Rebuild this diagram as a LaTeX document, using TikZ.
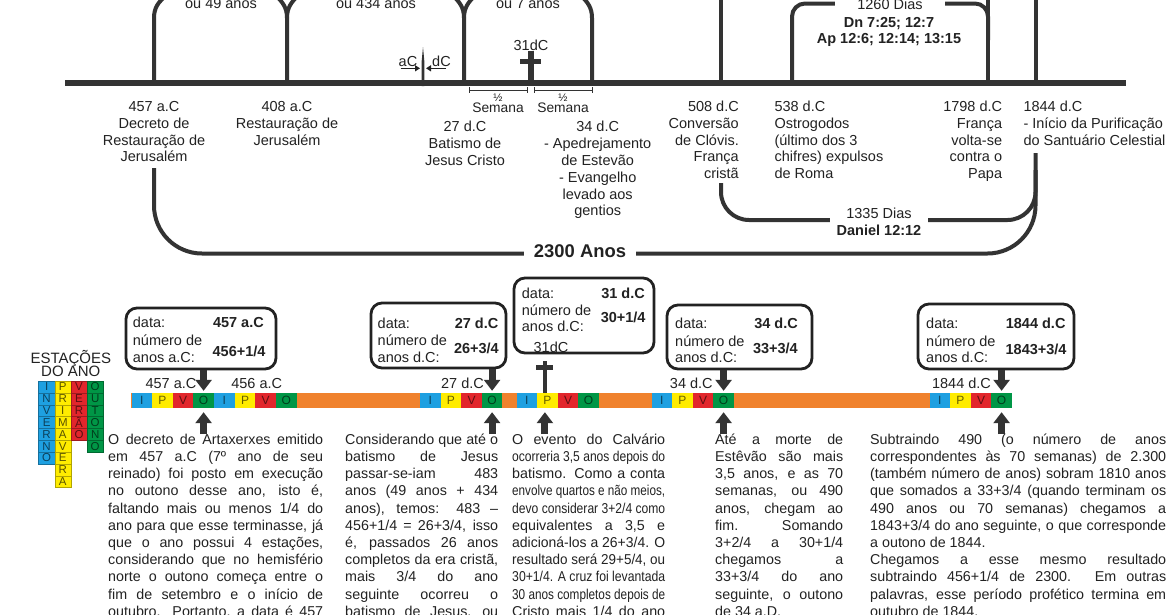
\documentclass[tikz,border=0pt]{standalone}
\usepackage{fontspec}
\setmainfont{Liberation Sans}
\usepackage{graphicx}
\usetikzlibrary{arrows.meta}
\definecolor{ink}{HTML}{222222}
\definecolor{lin}{HTML}{333333}
\definecolor{sI}{RGB}{30,160,225}
\definecolor{sP}{RGB}{255,236,0}
\definecolor{sV}{RGB}{226,38,44}
\definecolor{sO}{RGB}{0,150,70}
\definecolor{barc}{RGB}{240,130,45}
\newlength\tw
\newcommand\JL[2]{\strut\settowidth\tw{#2}\ifdim\tw>#1\relax\resizebox{#1}{\height}{#2}\else\makebox[#1][s]{#2}\fi}
\newcommand\lblfont{\fontsize{14.5}{16.8}\selectfont}
\newcommand\bodyfont{\fontsize{14.3}{17.2}\selectfont}
\newcommand\cellfont{\fontsize{12}{12}\selectfont}
\begin{document}
\begin{tikzpicture}[x=1pt,y=-1pt,
  vline/.style={draw=lin, line width=4pt},
  lbl/.style={font=\lblfont, text=ink, inner sep=0pt},
  blbl/.style={font=\lblfont\bfseries, text=ink, inner sep=0pt},
  body/.style={font=\bodyfont, text=ink, inner sep=0pt, align=left, anchor=north west},
  infobox/.style={draw=ink, line width=2.8pt, rounded corners=11pt, inner sep=0pt, fill=white},
  cell/.style={minimum width=20.6pt, minimum height=15pt, inner sep=0pt, font=\cellfont},
  lcell/.style={minimum width=16.2pt, minimum height=11.85pt, inner sep=0pt, font=\fontsize{11.5}{11.5}\selectfont, line width=0.4pt},
  bigarrow/.style={draw=lin, line width=7pt, -{Triangle[width=16pt,length=11pt]}},
  thinarrow/.style={draw=ink, line width=1.3pt, -{Triangle[width=6pt,length=5pt]}},
]
\useasboundingbox (0,0) rectangle (1168,614);
\fill[white] (0,0) rectangle (1168,614);

% ---------------- upper time line ----------------
\coordinate (tlL) at (65,82.5);
\coordinate (tlR) at (1126,82.5);
\draw[draw=lin, line width=6pt] (tlL) -- (tlR);

\draw[vline] (154,82) -- (154,18) .. controls (154,8) and (158,2) .. (167,-5);
\draw[vline] (287,82) -- (287,18) .. controls (287,8) and (283,2) .. (275,-5);
\draw[vline] (287,18) .. controls (287,8) and (291,2) .. (299,-5);
\draw[vline] (464,82) -- (464,18) .. controls (464,8) and (460,2) .. (452,-5);
\draw[vline] (464,18) .. controls (464,8) and (468,2) .. (476,-5);
\draw[vline] (592,82) -- (592,18) .. controls (592,8) and (588,2) .. (580,-5);
\draw[vline] (721,82) -- (721,-5);
\draw[vline] (988,82) -- (988,-5);
\draw[vline] (1035.5,82) -- (1035.5,-5);
\draw[vline, rounded corners=13pt] (792,82) |- (988,3.5) -- (988,40);

\node[lbl, anchor=base] (t49) at (221,8.3) {ou 49 anos};
\node[lbl, anchor=base] (t434) at (376,8.3) {ou 434 anos};
\node[lbl, anchor=base] (t7) at (528,8.3) {ou 7 anos};

\node[lbl, anchor=base, fill=white, inner xsep=22pt, inner ysep=1pt] (d1260) at (890,9) {1260 Dias};
\node[blbl, anchor=base] (dn) at (889,27) {Dn 7:25; 12:7};
\node[blbl, anchor=base] (ap) at (889,43) {Ap 12:6; 12:14; 13:15};

% aC / dC marker
\fill[lin] (421.6,86) -- (421.6,62) -- (423,47) -- (424.4,62) -- (424.4,86) -- cycle;
\node[lbl, anchor=base] (aC) at (408,66) {aC};
\node[lbl, anchor=base] (dC) at (441.5,66) {dC};
\coordinate (aCs) at (400.5,68.3); \coordinate (aCe) at (420,68.3);
\coordinate (dCs) at (446,68.3); \coordinate (dCe) at (426,68.3);
\draw[thinarrow] (aCs) -- (aCe);
\draw[thinarrow] (dCs) -- (dCe);

% cross 31 dC
\fill[lin] (528,51) rectangle (534,82);
\fill[lin] (520,58.5) rectangle (541,63.5);
\node[lbl, anchor=base] (c31) at (531,50) {31dC};

% half weeks
\draw[lin, line width=0.8pt] (469,87) -- (469,93) (469,90) -- (527,90) (527,87) -- (527,93);
\draw[lin, line width=0.8pt] (534,87) -- (534,93) (534,90) -- (592,90) (592,87) -- (592,93);
\node[lbl, anchor=base, font=\fontsize{11}{11}\selectfont] (h1) at (498,101.5) {½};
\node[lbl, anchor=base, font=\fontsize{13.8}{14}\selectfont] (s1) at (498,112.5) {Semana};
\node[lbl, anchor=base, font=\fontsize{11}{11}\selectfont] (h2) at (563,101.5) {½};
\node[lbl, anchor=base, font=\fontsize{13.8}{14}\selectfont] (s2) at (563,112.5) {Semana};

% labels under the line
\node[lbl, align=center, anchor=north] (n457) at (154,99.5) {\strut 457 a.C\\Decreto de\\Restauração de\\Jerusalém};
\node[lbl, align=center, anchor=north] (n408) at (287,99.5) {\strut 408 a.C\\Restauração de\\Jerusalém};
\node[lbl, align=center, anchor=north] (n27) at (465,120) {\strut 27 d.C\\Batismo de\\Jesus Cristo};
\node[lbl, align=center, anchor=north] (n34) at (597.7,120) {\strut 34 d.C\\- Apedrejamento\\de Estevão\\- Evangelho\\levado aos\\gentios};
\node[lbl, align=right, anchor=north east] (n508) at (739,99.5) {\strut 508 d.C\\Conversão\\de Clóvis.\\França\\cristã};
\node[lbl, align=left, anchor=north west] (n538) at (774.3,99.5) {\strut 538 d.C\\Ostrogodos\\(último dos 3\\chifres) expulsos\\de Roma};
\node[lbl, align=right, anchor=north east] (n1798) at (1002.3,99.5) {\strut 1798 d.C\\França\\volta-se\\contra o\\Papa};
\node[lbl, align=left, anchor=north west] (n1844) at (1023.3,99.5) {\strut 1844 d.C\\- Início da Purificação\\do Santuário Celestial};

% 2300 and 1335 brackets
\coordinate (b2300s) at (154,168);
\coordinate (b2300e) at (1035.5,153);
\coordinate (b1335s) at (721,183);
\coordinate (b1335e) at (1035.5,170);
\draw[vline, rounded corners=48pt] (b2300s) |- (1035.5,253.5) -- (b2300e);
\draw[vline, rounded corners=28pt] (b1335s) |- (1035.5,220) -- (b1335e);
\node[blbl, font=\fontsize{18.4}{20}\selectfont\bfseries, anchor=base, fill=white, inner xsep=9.5pt, inner ysep=1pt] (a2300) at (580,257.6) {2300 Anos};
\node[lbl, align=center, anchor=north, fill=white, inner xsep=6.5pt] (d1335) at (879,206.5) {\strut 1335 Dias\\\textbf{Daniel 12:12}};

% ---------------- lower part ----------------
% legend
\node[lbl, font=\fontsize{15}{15}\selectfont, anchor=base] (est) at (70.8,363.3) {ESTAÇÕES};
\node[lbl, font=\fontsize{15}{15}\selectfont, anchor=base] (doano) at (70.8,376.7) {DO ANO};
\foreach \L [count=\i from 0] in {I,N,V,E,R,N,O}
  \node[lcell, fill=sI, draw=sI!70!black, text=sI!40!black] (lI\i) at (46.6,381+\i*11.85+5.925) {\L};
\foreach \L [count=\i from 0] in {P,R,I,M,A,V,E,R,A}
  \node[lcell, fill=sP, draw=sP!70!black, text=sP!35!black] (lP\i) at (62.8,381+\i*11.85+5.925) {\L};
\foreach \L [count=\i from 0] in {V,E,R,Ã,O}
  \node[lcell, fill=sV, draw=sV!70!black, text=sV!40!black] (lV\i) at (79,381+\i*11.85+5.925) {\L};
\foreach \L [count=\i from 0] in {O,U,T,O,N,O}
  \node[lcell, fill=sO, draw=sO!70!black, text=sO!40!black] (lO\i) at (95.2,381+\i*11.85+5.925) {\L};

% orange bar
\node[fill=barc, minimum width=881pt, minimum height=15pt, inner sep=0pt] (obar) at (571.5,400.5) {};
\foreach \g/\x in {A/131.5,B/214.1,C/420,D/516.5,E/651.5,F/929.5}{
  \foreach \L/\c [count=\i from 0] in {I/sI,P/sP,V/sV,O/sO}
    \node[cell, fill=\c, text=\c!40!black] (\g\i) at (\x+\i*20.6+10.3,400.5) {\L};
}

% labels above bar
\node[lbl, anchor=base] (y457) at (171,388.3) {457 a.C};
\node[lbl, anchor=base] (y456) at (256.7,388.3) {456 a.C};
\node[lbl, anchor=base] (y27) at (462.5,388.3) {27 d.C};
\node[lbl, anchor=base] (y34) at (691.3,388.3) {34 d.C};
\node[lbl, anchor=base] (y1844) at (961.5,388.3) {1844 d.C};

% info boxes
\node[infobox, minimum width=150pt, minimum height=61pt] (b1) at (201,338.5) {};
\node[infobox, minimum width=135pt, minimum height=65pt] (b2) at (438.5,335.5) {};
\node[infobox, minimum width=140pt, minimum height=75pt] (b3) at (584,315.5) {};
\node[infobox, minimum width=145pt, minimum height=64pt] (b4) at (739.5,337) {};
\node[infobox, minimum width=156pt, minimum height=65pt] (b5) at (996,336.5) {};

\node[lbl, anchor=base west] (b1a) at (132.7,327.6) {data:};
\node[lbl, anchor=base west] (b1b) at (132.7,345.8) {número de};
\node[lbl, anchor=base west] (b1c) at (132.7,362.6) {anos a.C:};
\node[blbl, anchor=base east] (b1d) at (264,327.6) {457 a.C};
\node[blbl, anchor=base east] (b1e) at (265.7,356) {456+1/4};

\node[lbl, anchor=base west] (b2a) at (377.5,328.6) {data:};
\node[lbl, anchor=base west] (b2b) at (377.5,345.3) {número de};
\node[lbl, anchor=base west] (b2c) at (377.5,362) {anos d.C:};
\node[blbl, anchor=base east] (b2d) at (498.5,328.6) {27 d.C};
\node[blbl, anchor=base east] (b2e) at (499,353.6) {26+3/4};

\node[lbl, anchor=base west] (b3a) at (521.7,298.6) {data:};
\node[lbl, anchor=base west] (b3b) at (521.7,315.6) {número de};
\node[lbl, anchor=base west] (b3c) at (521.7,331.3) {anos d.C:};
\node[blbl, anchor=base east] (b3d) at (645,298.6) {31 d.C};
\node[blbl, anchor=base east] (b3e) at (645.7,322) {30+1/4};
\node[lbl, anchor=base] (b3f) at (551,352.6) {31dC};

\node[lbl, anchor=base west] (b4a) at (675,328.6) {data:};
\node[lbl, anchor=base west] (b4b) at (675,346) {número de};
\node[lbl, anchor=base west] (b4c) at (675,362.6) {anos d.C:};
\node[blbl, anchor=base east] (b4d) at (798,328.6) {34 d.C};
\node[blbl, anchor=base east] (b4e) at (798,353.6) {33+3/4};

\node[lbl, anchor=base west] (b5a) at (926,328) {data:};
\node[lbl, anchor=base west] (b5b) at (926,346) {número de};
\node[lbl, anchor=base west] (b5c) at (926,362.6) {anos d.C:};
\node[blbl, anchor=base east] (b5d) at (1065.7,328) {1844 d.C};
\node[blbl, anchor=base east] (b5e) at (1066.7,354.3) {1843+3/4};

% cross on the bar (31 dC)
\draw[draw=lin, line width=3.5pt] ([xshift=-2.5pt]D1.north |- 0,361) -- ([xshift=-2.5pt]D1.north);
\fill[lin] (536,365) rectangle (553,370);

% arrows down from boxes
\draw[bigarrow, shorten >=2pt] (b1.south -| A3) -- (A3.north);
\draw[bigarrow, shorten >=2pt] (b2.south -| C3) -- (C3.north);
\draw[bigarrow, shorten >=2pt] (b4.south -| E3) -- (E3.north);
\draw[bigarrow, shorten >=2pt] (b5.south -| F3) -- (F3.north);
% arrows up to the bar
\foreach \c in {A3,C3,E3,F3}
  \draw[bigarrow] ([yshift=-26pt]\c.south) -- ([yshift=-4pt]\c.south);
\draw[bigarrow] ([xshift=-2.5pt,yshift=-26pt]D1.south) -- ([xshift=-2.5pt,yshift=-4pt]D1.south);

% text columns
\node[body] (p1) at (108,432) {%
\JL{215pt}{O decreto de Artaxerxes emitido}\\
\JL{215pt}{em 457 a.C (7º ano de seu}\\
\JL{215pt}{reinado) foi posto em execução}\\
\JL{215pt}{no outono desse ano, isto é,}\\
\JL{215pt}{faltando mais ou menos 1/4 do}\\
\JL{215pt}{ano para que esse terminasse, já}\\
\JL{215pt}{que o ano possui 4 estações,}\\
\JL{215pt}{considerando que no hemisfério}\\
\JL{215pt}{norte o outono começa entre o}\\
\JL{215pt}{fim de setembro e o início de}\\
\JL{215pt}{outubro. Portanto, a data é 457}};

\node[body] (p2) at (345,432) {%
\JL{153pt}{Considerando que até o}\\
\JL{153pt}{batismo de Jesus}\\
\JL{153pt}{passar-se-iam 483}\\
\JL{153pt}{anos (49 anos + 434}\\
\JL{153pt}{anos), temos: 483 –}\\
\JL{153pt}{456+1/4 = 26+3/4, isso}\\
\JL{153pt}{é, passados 26 anos}\\
\JL{153pt}{completos da era cristã,}\\
\JL{153pt}{mais 3/4 do ano}\\
\JL{153pt}{seguinte ocorreu o}\\
\JL{153pt}{batismo de Jesus, ou}};

\node[body] (p3) at (512,432) {%
\JL{153pt}{O evento do Calvário}\\
\JL{153pt}{ocorreria 3,5 anos depois do}\\
\JL{153pt}{batismo. Como a conta}\\
\JL{153pt}{envolve quartos e não meios,}\\
\JL{153pt}{devo considerar 3+2/4 como}\\
\JL{153pt}{equivalentes a 3,5 e}\\
\JL{153pt}{adicioná-los a 26+3/4. O}\\
\JL{153pt}{resultado será 29+5/4, ou}\\
\JL{153pt}{30+1/4. A cruz foi levantada}\\
\JL{153pt}{30 anos completos depois de}\\
\JL{153pt}{Cristo mais 1/4 do ano}};

\node[body] (p4) at (715,432) {%
\JL{128pt}{Até a morte de}\\
\JL{128pt}{Estêvão são mais}\\
\JL{128pt}{3,5 anos, e as 70}\\
\JL{128pt}{semanas, ou 490}\\
\JL{128pt}{anos, chegam ao}\\
\JL{128pt}{fim. Somando}\\
\JL{128pt}{3+2/4 a 30+1/4}\\
\JL{128pt}{chegamos a}\\
\JL{128pt}{33+3/4 do ano}\\
\JL{128pt}{seguinte, o outono}\\
\strut de 34 a.D.};

\node[body] (p5) at (870,432) {%
\JL{296pt}{Subtraindo 490 (o número de anos}\\
\JL{296pt}{correspondentes às 70 semanas) de 2.300}\\
\JL{296pt}{(também número de anos) sobram 1810 anos}\\
\JL{296pt}{que somados a 33+3/4 (quando terminam os}\\
\JL{296pt}{490 anos ou 70 semanas) chegamos a}\\
\JL{296pt}{1843+3/4 do ano seguinte, o que corresponde}\\
\strut a outono de 1844.\\
\JL{296pt}{Chegamos a esse mesmo resultado}\\
\JL{296pt}{subtraindo 456+1/4 de 2300. Em outras}\\
\JL{296pt}{palavras, esse período profético termina em}\\
\strut outubro de 1844.};
\end{tikzpicture}
\end{document}
